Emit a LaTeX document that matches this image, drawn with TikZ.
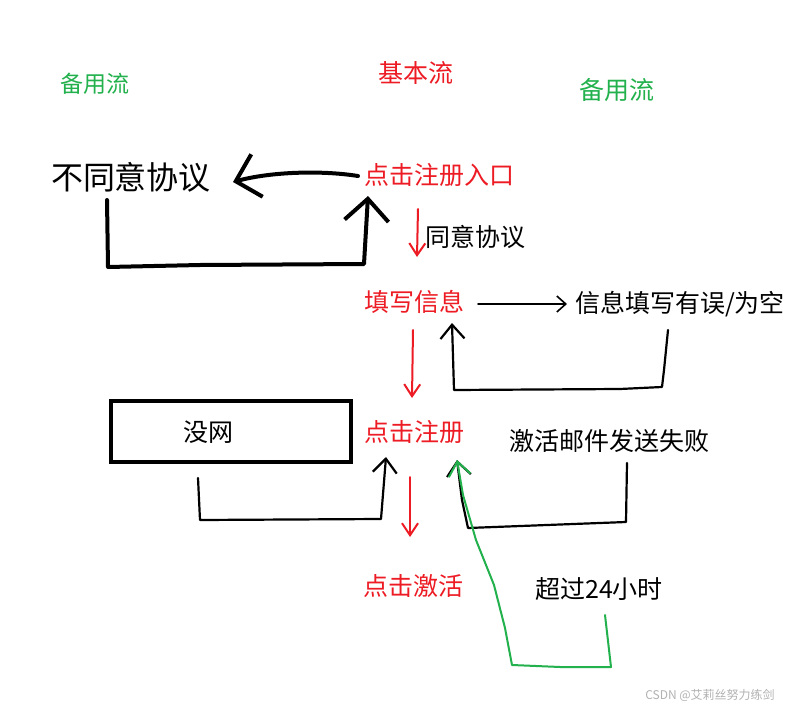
\documentclass[tikz,border=0pt]{standalone}
\usepackage{fontspec}
\setmainfont{Noto Sans CJK SC}
\usetikzlibrary{arrows.meta}
\definecolor{pred}{HTML}{ED1C24}
\definecolor{pgreen}{HTML}{22B14C}
\tikzset{
  x=1pt,y=-1pt,
  lbl/.style={inner sep=0pt,font=\fontsize{25}{29}\selectfont},
  redlbl/.style={lbl,text=pred},
  greenlbl/.style={lbl,text=pgreen},
  hand/.style={line join=round,line cap=round},
  thickink/.style={hand,black,line width=4pt,-{Straight Barb[length=22pt,width=44pt,line width=4pt]}},
  medink/.style={hand,black,line width=2.2pt,-{Straight Barb[length=14pt,width=24pt,line width=2.2pt]}},
  thinink/.style={hand,black,line width=1.6pt,-{Straight Barb[length=9pt,width=16pt,line width=1.6pt]}},
  redink/.style={hand,pred,line width=2pt,-{Straight Barb[length=12pt,width=16pt,line width=2pt]}},
  greenink/.style={hand,pgreen,line width=2pt,-{Straight Barb[length=14pt,width=22pt,line width=2pt]}},
}
\begin{document}
\begin{tikzpicture}
\useasboundingbox[fill=white] (0,0) rectangle (804,712);
% labels
\node[greenlbl,font=\fontsize{23}{27}\selectfont] (alt1) at (95,84) {备用流};
\node[redlbl] (basic) at (416,73) {基本流};
\node[greenlbl] (alt2) at (617,90) {备用流};
\node[lbl,font=\fontsize{32}{37}\selectfont] (disagree) at (131,177) {不同意协议};
\node[redlbl] (entry) at (439,175) {点击注册入口};
\node[lbl] (agree) at (475,237) {同意协议};
\node[redlbl] (fill) at (414,302) {填写信息};
\node[lbl] (err) at (680,304) {信息填写有误/为空};
\node[draw,line width=4pt,minimum width=240pt,minimum height=61pt,inner sep=0pt] (box) at (231,431.5) {};
\node[lbl] (nonet) at (208,432) {没网};
\node[redlbl] (reg) at (414,432) {点击注册};
\node[lbl] (mailfail) at (609,441) {激活邮件发送失败};
\node[redlbl] (activate) at (413,586) {点击激活};
\node[lbl] (over24) at (599,589) {超过24小时};
\node[inner sep=0pt,text=black!30,font=\fontsize{12}{14}\selectfont] (wm) at (710,695) {CSDN @艾莉丝努力练剑};

% coordinates
\coordinate (a1) at (358,176);
\coordinate (a2) at (233,182);
\coordinate (b0) at (107,200);
\coordinate (b1) at (108,267);
\coordinate (b2) at (364,264);
\coordinate (b3) at (368,196);
\coordinate (c0) at (418,209);
\coordinate (c1) at (417,257);
\coordinate (d0) at (478,304);
\coordinate (d1) at (567,304);
\coordinate (e0) at (668,330);
\coordinate (e1) at (662,387);
\coordinate (e2) at (454,390);
\coordinate (e3) at (452,323);
\coordinate (f0) at (413,330);
\coordinate (f1) at (412,398);
\coordinate (g0) at (198,478);
\coordinate (g1) at (200,520);
\coordinate (g2) at (381,519);
\coordinate (g3) at (386,457);
\coordinate (h0) at (410,477);
\coordinate (h1) at (410,537);
\coordinate (i0) at (627,463);
\coordinate (i1) at (626,522);
\coordinate (i2) at (468,528);
\coordinate (tip) at (457,460);
\coordinate (j0) at (605,615);
\coordinate (j1) at (611,667);
\coordinate (j2) at (512,665);

% connectors
\draw[thickink] (a1) .. controls (320,170) and (270,172) .. (a2);
\draw[thickink] (b0) -- (b1) -- (200,265) -- (b2) -- (b3);
\draw[redink] (c0) -- (c1);
\draw[thinink] (d0) -- (d1);
\draw[medink] (e0) -- (664,370) -- (e1) -- (620,389) -- (e2) -- (e3);
\draw[redink] (f0) -- (f1);
\draw[medink] (g0) -- (g1) -- (g2) -- (g3);
\draw[redink] (h0) -- (h1);
\draw[medink] (i0) -- (i1) -- (i2) -- (462,500) -- (tip);
\draw[greenink] (j0) -- (j1) -- (560,667) -- (j2) -- (505,628) -- (494,585) -- (476,540) -- (463,495) -- (tip);
\end{tikzpicture}
\end{document}
